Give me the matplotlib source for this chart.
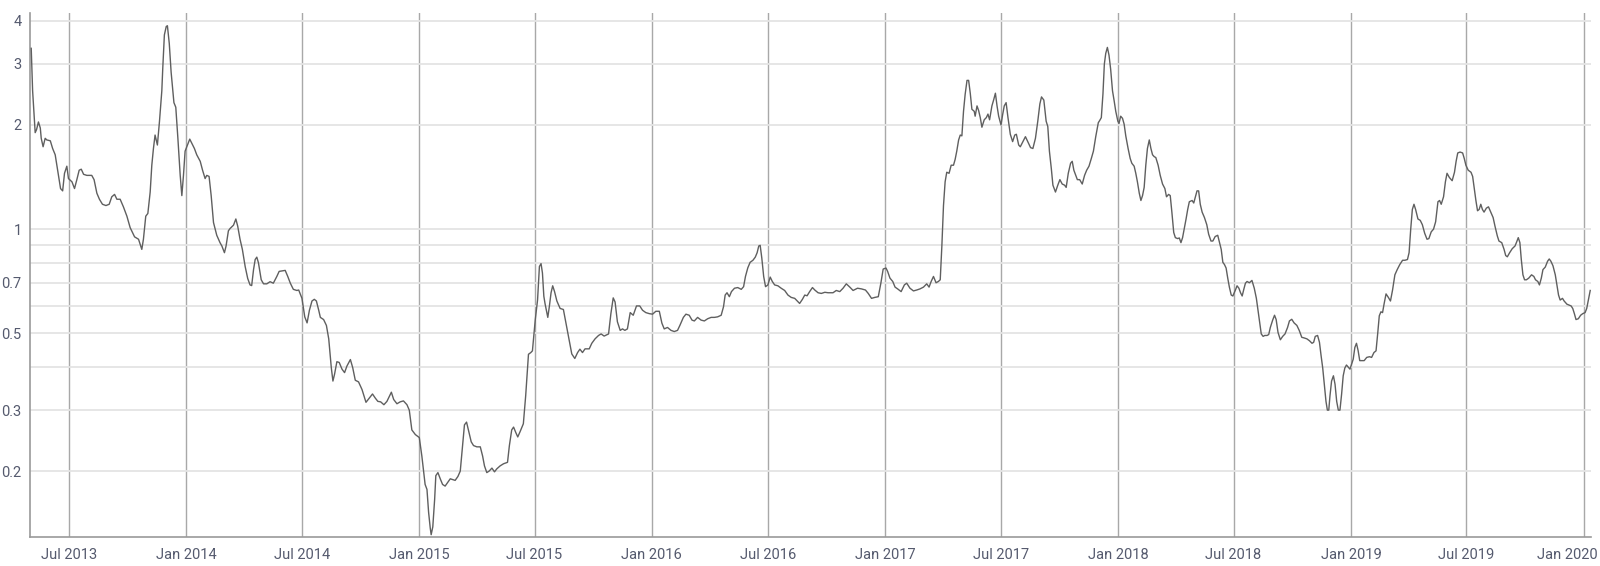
import numpy as np
import pandas as pd
import matplotlib
matplotlib.use("Agg")
import matplotlib.pyplot as plt
import matplotlib.dates as mdates
import matplotlib.transforms as mtransforms
from matplotlib.ticker import FixedLocator, FixedFormatter, NullFormatter

# values (x as decimal year, y on a log axis)
t_2013 = [2013.334, 2013.340, 2013.351, 2013.357, 2013.365, 2013.373, 2013.377, 2013.385,
          2013.394, 2013.401, 2013.416, 2013.426, 2013.437, 2013.451, 2013.460, 2013.469,
          2013.477, 2013.487, 2013.494, 2013.509, 2013.520, 2013.530, 2013.540, 2013.549,
          2013.559, 2013.573, 2013.594, 2013.604, 2013.616, 2013.627, 2013.640, 2013.655,
          2013.669, 2013.680, 2013.692, 2013.702, 2013.716, 2013.730, 2013.745, 2013.759,
          2013.778, 2013.795, 2013.809, 2013.816, 2013.826, 2013.835, 2013.845, 2013.852,
          2013.859, 2013.866, 2013.876, 2013.885, 2013.895, 2013.899, 2013.906, 2013.914,
          2013.919, 2013.927, 2013.935, 2013.947, 2013.955, 2013.964, 2013.974, 2013.981,
          2013.988, 2013.995]
v_2013 = [3.33, 2.51, 1.90, 1.94, 2.04, 1.96, 1.83, 1.73,
          1.83, 1.81, 1.80, 1.71, 1.64, 1.43, 1.31, 1.29,
          1.45, 1.52, 1.40, 1.37, 1.31, 1.39, 1.48, 1.49,
          1.44, 1.43, 1.43, 1.39, 1.27, 1.22, 1.18, 1.17,
          1.18, 1.24, 1.26, 1.22, 1.22, 1.16, 1.09, 1.01,
          0.95, 0.935, 0.874, 0.935, 1.09, 1.11, 1.28, 1.53,
          1.71, 1.87, 1.75, 2.05, 2.51, 2.91, 3.64, 3.85,
          3.87, 3.44, 2.84, 2.32, 2.25, 1.83, 1.43, 1.25,
          1.43, 1.68]

t_2014 = [2014.005, 2014.015, 2014.024, 2014.035, 2014.045, 2014.060, 2014.070, 2014.081,
          2014.088, 2014.098, 2014.107, 2014.117, 2014.131, 2014.145, 2014.153, 2014.164,
          2014.171, 2014.181, 2014.188, 2014.203, 2014.213, 2014.221, 2014.231, 2014.241,
          2014.253, 2014.264, 2014.274, 2014.281, 2014.289, 2014.296, 2014.303, 2014.310,
          2014.322, 2014.332, 2014.346, 2014.360, 2014.374, 2014.389, 2014.399, 2014.410,
          2014.425, 2014.436, 2014.447, 2014.460, 2014.475, 2014.483, 2014.497, 2014.509,
          2014.519, 2014.529, 2014.540, 2014.550, 2014.559, 2014.569, 2014.576, 2014.590,
          2014.602, 2014.612, 2014.623, 2014.630, 2014.637, 2014.647, 2014.657, 2014.669,
          2014.680, 2014.690, 2014.705, 2014.715, 2014.726, 2014.740, 2014.755, 2014.772,
          2014.783, 2014.800, 2014.812, 2014.823, 2014.835, 2014.849, 2014.862, 2014.881,
          2014.891, 2014.905, 2014.919, 2014.933, 2014.948, 2014.958, 2014.969, 2014.984]
v_2014 = [1.75, 1.82, 1.77, 1.71, 1.64, 1.57, 1.48, 1.40,
          1.43, 1.42, 1.25, 1.045, 0.96, 0.914, 0.894, 0.855,
          0.894, 0.989, 1.004, 1.027, 1.07, 1.02, 0.935, 0.874,
          0.78, 0.72, 0.69, 0.687, 0.764, 0.817, 0.83, 0.80,
          0.714, 0.695, 0.695, 0.705, 0.698, 0.73, 0.755, 0.757,
          0.76, 0.73, 0.698, 0.67, 0.665, 0.667, 0.631, 0.558,
          0.536, 0.583, 0.62, 0.627, 0.62, 0.583, 0.556, 0.548,
          0.527, 0.482, 0.398, 0.364, 0.381, 0.414, 0.412, 0.394,
          0.385, 0.402, 0.42, 0.398, 0.366, 0.362, 0.344, 0.316,
          0.323, 0.334, 0.325, 0.318, 0.317, 0.311, 0.318, 0.338,
          0.322, 0.313, 0.317, 0.319, 0.311, 0.30, 0.263, 0.255]

t_2015 = [2015.001, 2015.012, 2015.026, 2015.034, 2015.041, 2015.048, 2015.052, 2015.059,
          2015.067, 2015.072, 2015.081, 2015.091, 2015.101, 2015.112, 2015.122, 2015.134,
          2015.144, 2015.155, 2015.167, 2015.177, 2015.187, 2015.195, 2015.204, 2015.212,
          2015.224, 2015.234, 2015.248, 2015.263, 2015.273, 2015.281, 2015.291, 2015.301,
          2015.313, 2015.324, 2015.334, 2015.348, 2015.363, 2015.380, 2015.388, 2015.398,
          2015.406, 2015.416, 2015.424, 2015.434, 2015.448, 2015.458, 2015.470, 2015.480,
          2015.487, 2015.499, 2015.509, 2015.517, 2015.524, 2015.530, 2015.536, 2015.541,
          2015.553, 2015.560, 2015.567, 2015.574, 2015.582, 2015.592, 2015.606, 2015.620,
          2015.645, 2015.656, 2015.669, 2015.681, 2015.691, 2015.702, 2015.713, 2015.731,
          2015.742, 2015.756, 2015.771, 2015.782, 2015.795, 2015.814, 2015.824, 2015.834,
          2015.842, 2015.852, 2015.864, 2015.874, 2015.884, 2015.895, 2015.907, 2015.920,
          2015.934, 2015.948, 2015.960, 2015.974, 2015.989]
v_2015 = [0.25, 0.221, 0.183, 0.177, 0.152, 0.137, 0.131, 0.138,
          0.166, 0.194, 0.198, 0.19, 0.183, 0.181, 0.185, 0.19,
          0.189, 0.188, 0.193, 0.20, 0.237, 0.272, 0.277, 0.263,
          0.243, 0.237, 0.235, 0.235, 0.221, 0.207, 0.198, 0.20,
          0.204, 0.199, 0.203, 0.207, 0.21, 0.212, 0.237, 0.263,
          0.268, 0.258, 0.251, 0.26, 0.274, 0.33, 0.435, 0.44,
          0.445, 0.546, 0.624, 0.78, 0.795, 0.747, 0.64, 0.61,
          0.556, 0.60, 0.655, 0.686, 0.66, 0.62, 0.59, 0.586,
          0.476, 0.436, 0.423, 0.44, 0.45, 0.44, 0.451, 0.451,
          0.468, 0.482, 0.493, 0.498, 0.491, 0.498, 0.57, 0.633,
          0.616, 0.54, 0.51, 0.515, 0.51, 0.515, 0.574, 0.564,
          0.60, 0.60, 0.583, 0.574, 0.57]

t_2016 = [2016.003, 2016.017, 2016.032, 2016.043, 2016.053, 2016.067, 2016.082, 2016.096,
          2016.110, 2016.120, 2016.135, 2016.146, 2016.160, 2016.172, 2016.182, 2016.196,
          2016.211, 2016.225, 2016.239, 2016.254, 2016.268, 2016.282, 2016.297, 2016.307,
          2016.314, 2016.322, 2016.332, 2016.341, 2016.354, 2016.368, 2016.383, 2016.393,
          2016.401, 2016.411, 2016.421, 2016.433, 2016.443, 2016.451, 2016.458, 2016.464,
          2016.471, 2016.479, 2016.487, 2016.497, 2016.507, 2016.516, 2016.526, 2016.540,
          2016.554, 2016.569, 2016.583, 2016.597, 2016.612, 2016.623, 2016.633, 2016.645,
          2016.655, 2016.665, 2016.676, 2016.688, 2016.698, 2016.712, 2016.726, 2016.741,
          2016.755, 2016.776, 2016.790, 2016.805, 2016.819, 2016.833, 2016.848, 2016.862,
          2016.881, 2016.898, 2016.915, 2016.927, 2016.941, 2016.955, 2016.970, 2016.981,
          2016.991]
v_2016 = [0.568, 0.579, 0.579, 0.535, 0.515, 0.52, 0.51, 0.506,
          0.51, 0.527, 0.556, 0.568, 0.564, 0.546, 0.543, 0.556,
          0.546, 0.543, 0.551, 0.556, 0.556, 0.558, 0.564, 0.597,
          0.645, 0.655, 0.638, 0.66, 0.675, 0.678, 0.67, 0.682,
          0.73, 0.773, 0.802, 0.813, 0.83, 0.855, 0.894, 0.898,
          0.825, 0.73, 0.682, 0.69, 0.727, 0.706, 0.69, 0.686,
          0.675, 0.665, 0.645, 0.635, 0.631, 0.62, 0.61, 0.627,
          0.645, 0.642, 0.66, 0.678, 0.667, 0.655, 0.652, 0.657,
          0.655, 0.655, 0.665, 0.66, 0.675, 0.695, 0.68, 0.665,
          0.675, 0.672, 0.667, 0.652, 0.631, 0.635, 0.638, 0.698,
          0.767]

t_2017 = [2017.003, 2017.010, 2017.020, 2017.032, 2017.042, 2017.053, 2017.068, 2017.082,
          2017.092, 2017.106, 2017.121, 2017.135, 2017.149, 2017.164, 2017.178, 2017.188,
          2017.197, 2017.207, 2017.218, 2017.228, 2017.236, 2017.243, 2017.250, 2017.257,
          2017.264, 2017.274, 2017.283, 2017.293, 2017.300, 2017.307, 2017.315, 2017.322,
          2017.329, 2017.336, 2017.343, 2017.351, 2017.358, 2017.365, 2017.372, 2017.382,
          2017.386, 2017.394, 2017.401, 2017.408, 2017.415, 2017.425, 2017.434, 2017.441,
          2017.448, 2017.458, 2017.466, 2017.473, 2017.480, 2017.487, 2017.497, 2017.504,
          2017.511, 2017.519, 2017.527, 2017.537, 2017.547, 2017.556, 2017.563, 2017.573,
          2017.580, 2017.591, 2017.602, 2017.612, 2017.624, 2017.634, 2017.645, 2017.655,
          2017.664, 2017.671, 2017.681, 2017.691, 2017.698, 2017.705, 2017.713, 2017.720,
          2017.731, 2017.741, 2017.750, 2017.760, 2017.770, 2017.777, 2017.786, 2017.796,
          2017.803, 2017.810, 2017.818, 2017.825, 2017.835, 2017.846, 2017.856, 2017.865,
          2017.875, 2017.885, 2017.894, 2017.904, 2017.915, 2017.921, 2017.928, 2017.935,
          2017.941, 2017.947, 2017.954, 2017.961, 2017.968, 2017.976, 2017.983, 2017.990,
          2017.999]
v_2017 = [0.772, 0.755, 0.722, 0.706, 0.68, 0.672, 0.66, 0.69,
          0.698, 0.675, 0.663, 0.667, 0.672, 0.68, 0.695, 0.68,
          0.706, 0.73, 0.70, 0.706, 0.714, 0.894, 1.17, 1.37,
          1.46, 1.45, 1.53, 1.53, 1.59, 1.68, 1.81, 1.87,
          1.86, 2.19, 2.45, 2.69, 2.69, 2.47, 2.22, 2.19,
          2.12, 2.27, 2.20, 2.10, 1.97, 2.07, 2.10, 2.15,
          2.07, 2.27, 2.37, 2.47, 2.27, 2.12, 2.00, 2.14,
          2.27, 2.32, 2.10, 1.88, 1.79, 1.87, 1.88, 1.75,
          1.73, 1.79, 1.85, 1.79, 1.72, 1.71, 1.83, 2.05,
          2.30, 2.41, 2.36, 2.05, 1.98, 1.68, 1.50, 1.34,
          1.28, 1.34, 1.39, 1.35, 1.34, 1.32, 1.45, 1.55,
          1.57, 1.48, 1.43, 1.39, 1.39, 1.35, 1.43, 1.48,
          1.52, 1.60, 1.68, 1.85, 2.03, 2.06, 2.10, 2.46,
          3.00, 3.22, 3.35, 3.18, 2.90, 2.51, 2.35, 2.19,
          2.05]

t_2018 = [2018.004, 2018.011, 2018.019, 2018.026, 2018.033, 2018.043, 2018.052, 2018.059,
          2018.069, 2018.076, 2018.083, 2018.091, 2018.098, 2018.105, 2018.112, 2018.119,
          2018.126, 2018.134, 2018.141, 2018.148, 2018.155, 2018.162, 2018.172, 2018.181,
          2018.191, 2018.201, 2018.208, 2018.217, 2018.224, 2018.231, 2018.239, 2018.246,
          2018.256, 2018.263, 2018.270, 2018.277, 2018.284, 2018.292, 2018.299, 2018.306,
          2018.318, 2018.325, 2018.332, 2018.339, 2018.346, 2018.353, 2018.361, 2018.371,
          2018.381, 2018.389, 2018.399, 2018.407, 2018.417, 2018.428, 2018.435, 2018.443,
          2018.450, 2018.457, 2018.464, 2018.471, 2018.478, 2018.486, 2018.493, 2018.504,
          2018.511, 2018.519, 2018.526, 2018.533, 2018.540, 2018.547, 2018.554, 2018.564,
          2018.575, 2018.585, 2018.594, 2018.601, 2018.608, 2018.615, 2018.623, 2018.630,
          2018.640, 2018.647, 2018.654, 2018.664, 2018.672, 2018.679, 2018.687, 2018.697,
          2018.707, 2018.717, 2018.728, 2018.736, 2018.746, 2018.756, 2018.768, 2018.778,
          2018.789, 2018.799, 2018.811, 2018.822, 2018.833, 2018.840, 2018.847, 2018.857,
          2018.865, 2018.872, 2018.879, 2018.886, 2018.893, 2018.899, 2018.905, 2018.910,
          2018.917, 2018.925, 2018.932, 2018.939, 2018.946, 2018.953, 2018.960, 2018.967,
          2018.974, 2018.981, 2018.989, 2018.996]
v_2018 = [2.02, 2.12, 2.09, 2.01, 1.86, 1.71, 1.60, 1.55,
          1.52, 1.45, 1.37, 1.27, 1.21, 1.25, 1.32, 1.53,
          1.71, 1.81, 1.71, 1.64, 1.62, 1.61, 1.53, 1.43,
          1.35, 1.31, 1.24, 1.26, 1.25, 1.12, 0.978, 0.945,
          0.939, 0.943, 0.914, 0.945, 1.00, 1.07, 1.14, 1.20,
          1.21, 1.19, 1.24, 1.29, 1.29, 1.18, 1.12, 1.08,
          1.03, 0.967, 0.924, 0.924, 0.952, 0.96, 0.918, 0.874,
          0.802, 0.79, 0.772, 0.722, 0.68, 0.645, 0.641, 0.667,
          0.686, 0.675, 0.655, 0.641, 0.67, 0.698, 0.706, 0.70,
          0.711, 0.675, 0.631, 0.583, 0.54, 0.498, 0.49, 0.493,
          0.493, 0.496, 0.52, 0.546, 0.564, 0.548, 0.503, 0.479,
          0.49, 0.498, 0.52, 0.543, 0.549, 0.536, 0.527, 0.51,
          0.487, 0.485, 0.482, 0.476, 0.468, 0.471, 0.49, 0.493,
          0.471, 0.431, 0.397, 0.356, 0.318, 0.30, 0.30, 0.329,
          0.364, 0.377, 0.356, 0.318, 0.30, 0.30, 0.333, 0.377,
          0.397, 0.405, 0.399, 0.394]

t_2019 = [2019.003, 2019.010, 2019.017, 2019.024, 2019.031, 2019.038, 2019.047, 2019.057,
          2019.068, 2019.080, 2019.089, 2019.099, 2019.108, 2019.115, 2019.122, 2019.129,
          2019.136, 2019.143, 2019.151, 2019.161, 2019.170, 2019.179, 2019.189, 2019.199,
          2019.210, 2019.222, 2019.232, 2019.243, 2019.250, 2019.257, 2019.264, 2019.271,
          2019.278, 2019.288, 2019.298, 2019.307, 2019.317, 2019.327, 2019.335, 2019.345,
          2019.355, 2019.364, 2019.374, 2019.381, 2019.388, 2019.398, 2019.406, 2019.413,
          2019.423, 2019.435, 2019.445, 2019.452, 2019.459, 2019.469, 2019.480, 2019.487,
          2019.494, 2019.504, 2019.516, 2019.523, 2019.530, 2019.537, 2019.544, 2019.551,
          2019.558, 2019.565, 2019.572, 2019.582, 2019.591, 2019.601, 2019.611, 2019.619,
          2019.629, 2019.636, 2019.648, 2019.658, 2019.665, 2019.672, 2019.682, 2019.693,
          2019.705, 2019.712, 2019.719, 2019.726, 2019.732, 2019.739, 2019.746, 2019.754,
          2019.764, 2019.776, 2019.786, 2019.793, 2019.803, 2019.810, 2019.818, 2019.825,
          2019.835, 2019.845, 2019.852, 2019.859, 2019.868, 2019.878, 2019.885, 2019.892,
          2019.899, 2019.909, 2019.916, 2019.928, 2019.938, 2019.946, 2019.953, 2019.960,
          2019.967, 2019.977, 2019.987, 2019.996, 2020.006, 2020.013, 2020.020, 2020.028]
v_2019 = [0.407, 0.421, 0.455, 0.468, 0.446, 0.417, 0.417, 0.417,
          0.426, 0.428, 0.426, 0.44, 0.445, 0.498, 0.562, 0.577,
          0.574, 0.61, 0.65, 0.635, 0.62, 0.667, 0.738, 0.764,
          0.79, 0.813, 0.813, 0.817, 0.855, 1.00, 1.14, 1.18,
          1.14, 1.07, 1.06, 1.03, 0.973, 0.935, 0.939, 0.982,
          1.00, 1.05, 1.20, 1.21, 1.18, 1.24, 1.37, 1.45,
          1.41, 1.38, 1.46, 1.57, 1.66, 1.67, 1.66, 1.60,
          1.53, 1.48, 1.46, 1.42, 1.31, 1.21, 1.13, 1.14,
          1.18, 1.14, 1.12, 1.15, 1.16, 1.12, 1.08, 1.02,
          0.956, 0.924, 0.914, 0.874, 0.839, 0.832, 0.855, 0.878,
          0.894, 0.918, 0.945, 0.914, 0.817, 0.738, 0.714, 0.714,
          0.722, 0.738, 0.73, 0.714, 0.706, 0.69, 0.722, 0.764,
          0.777, 0.808, 0.82, 0.808, 0.784, 0.738, 0.69, 0.645,
          0.624, 0.631, 0.62, 0.607, 0.603, 0.60, 0.59, 0.57,
          0.548, 0.551, 0.564, 0.57, 0.574, 0.59, 0.624, 0.665]

y_ticks = [0.2, 0.3, 0.5, 0.7, 1, 2, 3, 4]
y_minor = [0.4, 0.6, 0.8, 0.9]


def to_date(y):
    year = int(y)
    start = pd.Timestamp(year, 1, 1)
    n = 366 if (year % 4 == 0) else 365
    return start + pd.Timedelta(days=(y - year) * n)


t_all = t_2013 + t_2014 + t_2015 + t_2016 + t_2017 + t_2018 + t_2019
v_all = v_2013 + v_2014 + v_2015 + v_2016 + v_2017 + v_2018 + v_2019
dates = [to_date(t) for t in t_all]

plt.rcParams['font.family'] = ['Roboto', 'DejaVu Sans']
label_col = '#555a6e'

fig = plt.figure(figsize=(16, 5.66), dpi=100)
ax = fig.add_axes([30 / 1600, 1 - 537 / 566, (1590.7 - 30) / 1600, (537 - 12.7) / 566])

ax.plot(dates, v_all, color='#5f5f5f', lw=1.0, zorder=3)

ax.set_yscale('log')
ax.set_ylim(0.129, 4.22)
ax.set_xlim(pd.Timestamp('2013-05-01'), pd.Timestamp('2020-01-12'))

ax.yaxis.set_major_locator(FixedLocator(y_ticks))
ax.yaxis.set_major_formatter(FixedFormatter([str(v) for v in y_ticks]))
ax.yaxis.set_minor_locator(FixedLocator(y_minor))
ax.yaxis.set_minor_formatter(NullFormatter())

ax.xaxis.set_major_locator(mdates.MonthLocator(bymonth=[1, 7]))
ax.xaxis.set_major_formatter(mdates.DateFormatter('%b %Y'))

ax.grid(axis='y', which='both', color='#e4e4e4', lw=1.3, zorder=0)
ax.grid(axis='x', which='major', color='#a8a8a8', lw=1.0, zorder=1)

ax.tick_params(axis='both', which='both', length=0, labelsize=10.5, colors=label_col)
ax.tick_params(axis='y', pad=6)
ax.tick_params(axis='x', pad=8)

for s in ['top', 'right']:
    ax.spines[s].set_visible(False)
for s in ['left', 'bottom']:
    ax.spines[s].set_color('#9a9a9a')
    ax.spines[s].set_linewidth(1.2)

# keep the last date label inside the figure, as in the original
fig.canvas.draw()
last = ax.get_xticklabels()[-1]
last.set_horizontalalignment('right')
last.set_transform(last.get_transform() + mtransforms.ScaledTranslation(0.14, 0, fig.dpi_scale_trans))

fig.savefig('out.png', dpi=100)
